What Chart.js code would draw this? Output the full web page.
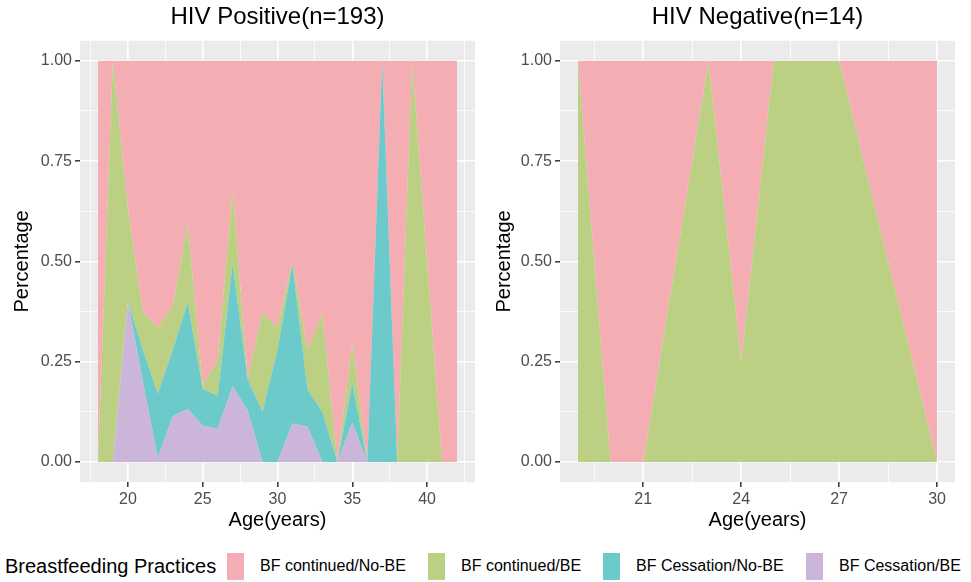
<!DOCTYPE html>
<html>
<head>
<meta charset="utf-8">
<script src="https://cdn.jsdelivr.net/npm/chart.js@4.4.1/dist/chart.umd.min.js"></script>
<style>
html,body{margin:0;padding:0;background:#fff;}
body{width:971px;height:582px;position:relative;overflow:hidden;font-family:"Liberation Sans",Arial,sans-serif;}
#cL{position:absolute;left:0;top:0;}
#cR{position:absolute;left:486px;top:0;}
.lt{position:absolute;font-size:20px;line-height:24px;color:#000;white-space:nowrap;}
.key{position:absolute;width:17px;height:27px;}
.lab{position:absolute;font-size:16px;line-height:20px;color:#000;white-space:nowrap;}
</style>
</head>
<body>
<canvas id="cL" width="486" height="540"></canvas>
<canvas id="cR" width="485" height="540"></canvas>
<div id="legend"></div>
<script>
// ---------- DATA ----------
const seriesNames = ['BF continued/No-BE', 'BF continued/BE', 'BF Cessation/No-BE', 'BF Cessation/BE'];
const seriesColors = ['#F5ADB4', '#BBD083', '#6CCACA', '#CBB6DA'];
const legendTitle = 'Breastfeeding Practices';

// HIV Positive (n=193)
const agesPos      = [18, 19, 20,   21,    22,    23,    24,    25,    26,    27,    28,    29,    30,    31,    32,    33,    34, 35,    36, 37, 38, 39, 40,  41, 42];
const posNoBE      = [1,  0,  0.37, 0.625, 0.665, 0.611, 0.405, 0.81,  0.748, 0.32,  0.79,  0.627, 0.664, 0.50,  0.721, 0.63,  1,  0.703, 1,  0,  1,  0,  0.5, 1,  1];
const posBE        = [0,  1,  0.23, 0.095, 0.165, 0.109, 0.198, 0.008, 0.087, 0.185, 0.004, 0.248, 0.056, 0.007, 0.099, 0.245, 0,  0.10,  0,  0,  0,  1,  0.5, 0,  0];
const posCessNoBE  = [0,  0,  0,    0.08,  0.16,  0.167, 0.265, 0.092, 0.082, 0.307, 0.078, 0.125, 0.28,  0.397, 0.092, 0.125, 0,  0.099, 0,  1,  0,  0,  0,   0,  0];
const posCessBE    = [0,  0,  0.40, 0.20,  0.01,  0.113, 0.132, 0.09,  0.083, 0.188, 0.128, 0,     0,     0.096, 0.088, 0,     0,  0.098, 0,  0,  0,  0,  0,   0,  0];

// HIV Negative (n=14)
const agesNeg      = [19, 20, 21, 23, 24,   25, 27, 30];
const negNoBE      = [0,  1,  1,  0,  0.75, 0,  0,  1];
const negBE        = [1,  0,  0,  1,  0.25, 1,  1,  0];
const negCessNoBE  = [0,  0,  0,  0,  0,    0,  0,  0];
const negCessBE    = [0,  0,  0,  0,  0,    0,  0,  0];

// Tick labels
const yMajor = [0, 0.25, 0.5, 0.75, 1];
const yLabels = ['0.00', '0.25', '0.50', '0.75', '1.00'];
const yMinor = [0.125, 0.375, 0.625, 0.875];
const xMajorPos = [20, 25, 30, 35, 40];
const xMinorPos = [17.5, 22.5, 27.5, 32.5, 37.5, 42.5];
const xMajorNeg = [21, 24, 27, 30];
const xMinorNeg = [19.5, 22.5, 25.5, 28.5];

// ---------- CHART ----------
const FONT = '"Liberation Sans", Arial, sans-serif';

const panelBg = {
  id: 'panelBg',
  beforeDraw(chart) {
    const a = chart.chartArea, ctx = chart.ctx;
    ctx.save();
    ctx.fillStyle = '#EBEBEB';
    ctx.fillRect(a.left, a.top, a.right - a.left, a.bottom - a.top);
    ctx.restore();
  }
};

function makeChart(id, title, ages, series, xMajor, xMinor, yWidth, padRight, yTitlePad) {
  const span = ages[ages.length - 1] - ages[0];
  const xmin = ages[0] - 0.05 * span, xmax = ages[ages.length - 1] + 0.05 * span;
  const xTicks = xMajor.concat(xMinor).sort((a, b) => a - b);
  const yTicks = yMajor.concat(yMinor).sort((a, b) => a - b);
  const stackOrder = [3, 2, 1, 0];
  const datasets = stackOrder.map((si, k) => ({
    label: seriesNames[si],
    data: ages.map((a, j) => ({ x: a, y: series[si][j] })),
    backgroundColor: seriesColors[si],
    borderColor: 'rgba(0,0,0,0)',
    borderWidth: 0,
    pointRadius: 0,
    pointHoverRadius: 0,
    tension: 0,
    fill: k === 0 ? 'origin' : '-1'
  }));
  const isMajX = v => xMajor.indexOf(v) >= 0;
  const isMajY = v => yMajor.indexOf(v) >= 0;
  return new Chart(document.getElementById(id), {
    type: 'line',
    data: { datasets },
    plugins: [panelBg],
    options: {
      responsive: false,
      animation: false,
      events: [],
      layout: { padding: { left: 0, right: padRight, top: 0, bottom: 0 } },
      plugins: {
        legend: { display: false },
        tooltip: { enabled: false },
        title: {
          display: true, text: title, fullSize: false,
          color: '#000', font: { family: FONT, size: 24, weight: 'normal' },
          padding: { top: 3, bottom: 9 }
        }
      },
      scales: {
        x: {
          type: 'linear', min: xmin, max: xmax,
          afterFit: s => { s.height = 58; },
          afterBuildTicks: s => { s.ticks = xTicks.map(v => ({ value: v })); },
          ticks: {
            autoSkip: false, maxRotation: 0, padding: 3, color: '#4D4D4D',
            font: { family: FONT, size: 16 },
            callback: v => isMajX(v) ? String(v) : ''
          },
          grid: {
            color: '#FFFFFF',
            lineWidth: c => (c.tick && isMajX(c.tick.value)) ? 1.6 : 0.8,
            tickLength: 5,
            tickColor: c => (c.tick && isMajX(c.tick.value)) ? '#333333' : 'rgba(0,0,0,0)',
            tickWidth: 1.5
          },
          border: { display: false },
          title: {
            display: true, text: 'Age(years)', color: '#000',
            font: { family: FONT, size: 20 }, padding: { top: 0, bottom: 8 }
          }
        },
        y: {
          stacked: true, min: -0.05, max: 1.05,
          afterFit: s => { s.width = yWidth; },
          afterBuildTicks: s => { s.ticks = yTicks.map(v => ({ value: v })); },
          ticks: {
            autoSkip: false, padding: 3, color: '#4D4D4D',
            font: { family: FONT, size: 16 },
            callback: v => { const i = yMajor.indexOf(v); return i >= 0 ? yLabels[i] : ''; }
          },
          grid: {
            color: '#FFFFFF',
            lineWidth: c => (c.tick && isMajY(c.tick.value)) ? 1.6 : 0.8,
            tickLength: 5,
            tickColor: c => (c.tick && isMajY(c.tick.value)) ? '#333333' : 'rgba(0,0,0,0)',
            tickWidth: 1.5
          },
          border: { display: false },
          title: {
            display: true, text: 'Percentage', color: '#000',
            font: { family: FONT, size: 20 }, padding: { top: yTitlePad, bottom: 0 }
          }
        }
      }
    }
  });
}

makeChart('cL', 'HIV Positive(n=193)', agesPos, [posNoBE, posBE, posCessNoBE, posCessBE], xMajorPos, xMinorPos, 80, 11, 10);
makeChart('cR', 'HIV Negative(n=14)', agesNeg, [negNoBE, negBE, negCessNoBE, negCessBE], xMajorNeg, xMinorNeg, 74, 16, 6);

// ---------- LEGEND (HTML) ----------
const legendLayout = { titleLeft: 5, keyLefts: [227, 428, 603, 806], top: 553 };
const lg = document.getElementById('legend');
const t = document.createElement('div');
t.className = 'lt'; t.textContent = legendTitle;
t.style.left = legendLayout.titleLeft + 'px'; t.style.top = (legendLayout.top + 1) + 'px';
lg.appendChild(t);
seriesNames.forEach((name, i) => {
  const k = document.createElement('div');
  k.className = 'key'; k.style.background = seriesColors[i];
  k.style.left = legendLayout.keyLefts[i] + 'px'; k.style.top = legendLayout.top + 'px';
  lg.appendChild(k);
  const l = document.createElement('div');
  l.className = 'lab'; l.textContent = name;
  l.style.left = (legendLayout.keyLefts[i] + 33) + 'px'; l.style.top = (legendLayout.top + 3) + 'px';
  lg.appendChild(l);
});
</script>
</body>
</html>
